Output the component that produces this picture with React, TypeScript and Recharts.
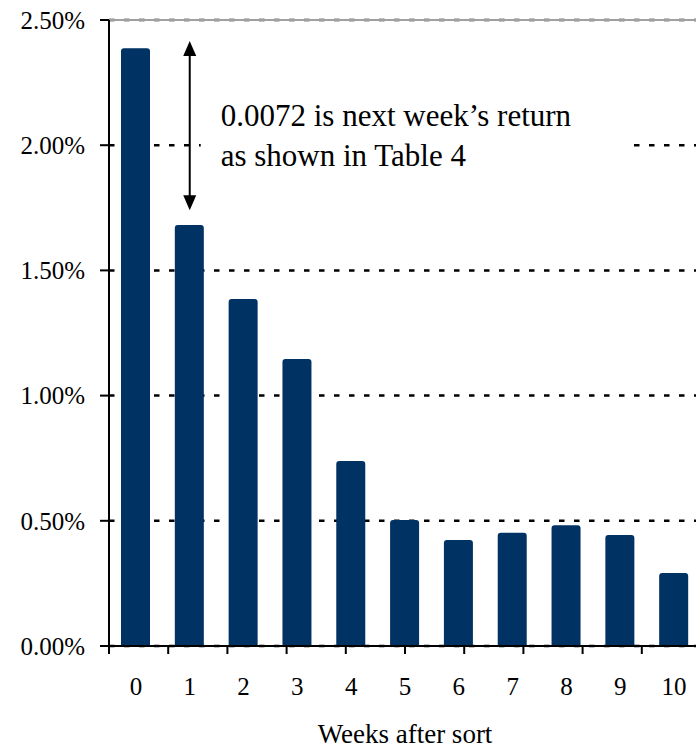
import React from 'react';
import { BarChart, Bar, XAxis, YAxis, CartesianGrid, ReferenceLine, ReferenceDot } from 'recharts';

const WEEKS = ['0', '1', '2', '3', '4', '5', '6', '7', '8', '9', '10'];
const RETURNS = [2.387, 1.681, 1.386, 1.146, 0.739, 0.503, 0.423, 0.452, 0.482, 0.443, 0.292];
const Y_TICKS = [0, 0.5, 1, 1.5, 2, 2.5];
const EDGE_TICKS = [0, 1, 2, 3, 4, 5, 6, 7, 8, 9, 10];
const ARROW_TOP = 2.416;
const ARROW_BOTTOM = 1.74;
const ANNOT_X = '1';
const ANNOT_Y = 2.0;
const ANNOT_LINES = ['0.0072 is next week\u2019s return', 'as shown in Table 4'];
const X_TITLE = 'Weeks after sort';

const data = WEEKS.map((w, i) => ({ week: w, ret: RETURNS[i] }));

const FONT = 'Liberation Serif, Times New Roman, serif';
const BAR_COLOR = '#003263';

const ArrowShape = (p: any) => {
  const { x1, y1, x2, y2 } = p;
  const x = x1;
  const top = Math.min(y1, y2);
  const bot = Math.max(y1, y2);
  const hw = 6.5;
  const hh = 15;
  return (
    <g>
      <line x1={x} y1={top + hh - 2} x2={x} y2={bot - hh + 2} stroke="#000" strokeWidth={2} />
      <polygon points={`${x},${top} ${x - hw},${top + hh} ${x + hw},${top + hh}`} fill="#000" />
      <polygon points={`${x},${bot} ${x - hw},${bot - hh} ${x + hw},${bot - hh}`} fill="#000" />
    </g>
  );
};

const AnnotShape = (p: any) => {
  const { cx, cy } = p;
  return (
    <g>
      <rect x={cx + 11} y={cy - 46} width={432} height={78} fill="#fff" />
      <text x={cx + 31} y={cy - 19} fontFamily={FONT} fontSize={31} fill="#000">
        {ANNOT_LINES[0]}
      </text>
      <text x={cx + 31} y={cy + 21} fontFamily={FONT} fontSize={31} fill="#000">
        {ANNOT_LINES[1]}
      </text>
    </g>
  );
};

const EmptyTick = () => <g />;

export default function App() {
  return (
    <div style={{ position: 'absolute', left: 0, top: 0, width: 696, height: 749, overflow: 'hidden', background: '#fff' }}>
      <BarChart
        width={702}
        height={749}
        data={data}
        margin={{ top: 20, right: 1, bottom: 0, left: 0 }}
        barCategoryGap={0}
      >
        <CartesianGrid xAxisId="bCat" vertical={false} stroke="#000" strokeWidth={2.5} strokeDasharray="5.5 9.5" />
        <ReferenceLine y={2.5} xAxisId="bCat" stroke="#a0a0a0" strokeWidth={2} ifOverflow="visible" />
        <XAxis
          xAxisId="aEdges"
          type="number"
          domain={[0, 11]}
          allowDataOverflow
          ticks={EDGE_TICKS}
          interval={0}
          height={1}
          tickSize={8}
          tick={EmptyTick}
          tickLine={{ stroke: '#000', strokeWidth: 2 }}
          axisLine={{ stroke: '#000', strokeWidth: 2 }}
        />
        <XAxis
          xAxisId="bCat"
          dataKey="week"
          type="category"
          height={102}
          interval={0}
          tickLine={false}
          axisLine={false}
          tickSize={8}
          tickMargin={22}
          tick={{ fontFamily: FONT, fontSize: 25, fill: '#000' }}
          label={{ value: X_TITLE, position: 'insideBottom', offset: 6, fontFamily: FONT, fontSize: 27, fill: '#000' }}
        />
        <YAxis
          width={109}
          domain={[0, 2.5]}
          ticks={Y_TICKS}
          interval={0}
          tickSize={9}
          tickMargin={15}
          tickFormatter={(v: number) => v.toFixed(2) + '%'}
          tick={{ fontFamily: FONT, fontSize: 25, fill: '#000' }}
          tickLine={{ stroke: '#000', strokeWidth: 2 }}
          axisLine={{ stroke: '#000', strokeWidth: 2 }}
        />
        <Bar xAxisId="bCat" dataKey="ret" fill={BAR_COLOR} barSize={29} radius={[3, 3, 0, 0]} isAnimationActive={false} />
        <ReferenceLine
          xAxisId="bCat"
          segment={[{ x: '1', y: ARROW_TOP }, { x: '1', y: ARROW_BOTTOM }]}
          shape={ArrowShape}
          ifOverflow="visible"
        />
        <ReferenceDot xAxisId="bCat" x={ANNOT_X} y={ANNOT_Y} r={0} shape={AnnotShape} ifOverflow="visible" />
      </BarChart>
    </div>
  );
}
